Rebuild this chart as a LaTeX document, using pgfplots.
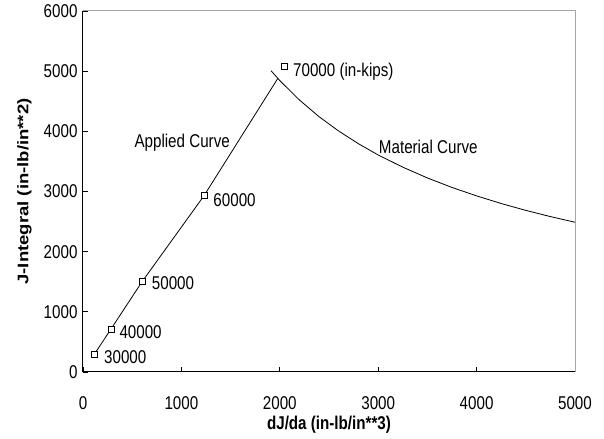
\documentclass[border=0pt]{standalone}
\usepackage{fontspec}
\setmainfont{Liberation Sans}[FakeStretch=0.82]
\newfontfamily\yfont{Liberation Sans}
\usepackage{graphicx}
\usepackage{pgfplots}
\pgfplotsset{compat=1.18}
\begin{document}
\begin{tikzpicture}[font=\fontsize{18.5bp}{22bp}\selectfont]
\begin{axis}[
  scale only axis, width=492bp, height=361bp,
  xmin=0, xmax=5000, ymin=0, ymax=6000,
  xtick={0,1000,2000,3000,4000,5000},
  ytick={0,1000,2000,3000,4000,5000,6000},
  axis x line*=bottom, axis y line*=left,
  axis line style={line width=1bp, black, -},
  tick align=inside, major tick length=5bp,
  every tick/.style={black, line width=0.8bp},
  /pgf/number format/assume math mode=true,
  /pgf/number format/1000 sep={},
  scaled ticks=false,
  xticklabel style={yshift=-21bp},
  yticklabel style={xshift=-2bp},
  xlabel={\bfseries dJ/da (in-lb/in**3)},
  ylabel={\scalebox{1}[0.83]{\yfont\bfseries J-Integral (in-lb/in**2)}},
  xlabel style={at={(rel axis cs:0.5,-0.145)}, anchor=center},
  ylabel style={at={(rel axis cs:-0.119,0.5)}, anchor=center},
  clip=false,
]
\draw[gray!70, line width=1bp] (rel axis cs:0,1) -- (rel axis cs:1,1) -- (rel axis cs:1,0);
% Applied curve
\addplot[black, line width=0.8bp] coordinates {(115,295) (285,715) (600,1500) (1230,2930) (1980,4880)};
% Load points
\addplot[only marks, mark=square*, mark size=3bp, black, mark options={fill=white, line width=0.7bp}]
  coordinates {(115,295) (285,715) (600,1500) (1230,2930) (2045,5075)};
% Material curve
\addplot[black, line width=0.8bp] coordinates {
 (1911,5007) (2000,4844) (2200,4520) (2400,4242) (2600,4003) (2800,3793)
 (3000,3607) (3250,3404) (3500,3225) (3750,3067) (4000,2927) (4250,2800)
 (4500,2686) (4750,2583) (5000,2489)};
\node[anchor=west, inner sep=0] at (axis cs:2134,4991) {70000 (in-kips)};
\node[anchor=west, inner sep=0] at (axis cs:1324,2859) {60000};
\node[anchor=west, inner sep=0] at (axis cs:698,1474) {50000};
\node[anchor=west, inner sep=0] at (axis cs:369,670) {40000};
\node[anchor=west, inner sep=0] at (axis cs:213,244) {30000};
\node[anchor=east, inner sep=0] at (axis cs:1494,3806) {Applied Curve};
\node[anchor=center, inner sep=0] at (axis cs:3509,3744) {Material Curve};
\end{axis}
\path ([shift={(-83bp,-67bp)}]current axis.south west) rectangle ([shift={(29bp,11bp)}]current axis.north east);
\end{tikzpicture}
\end{document}
